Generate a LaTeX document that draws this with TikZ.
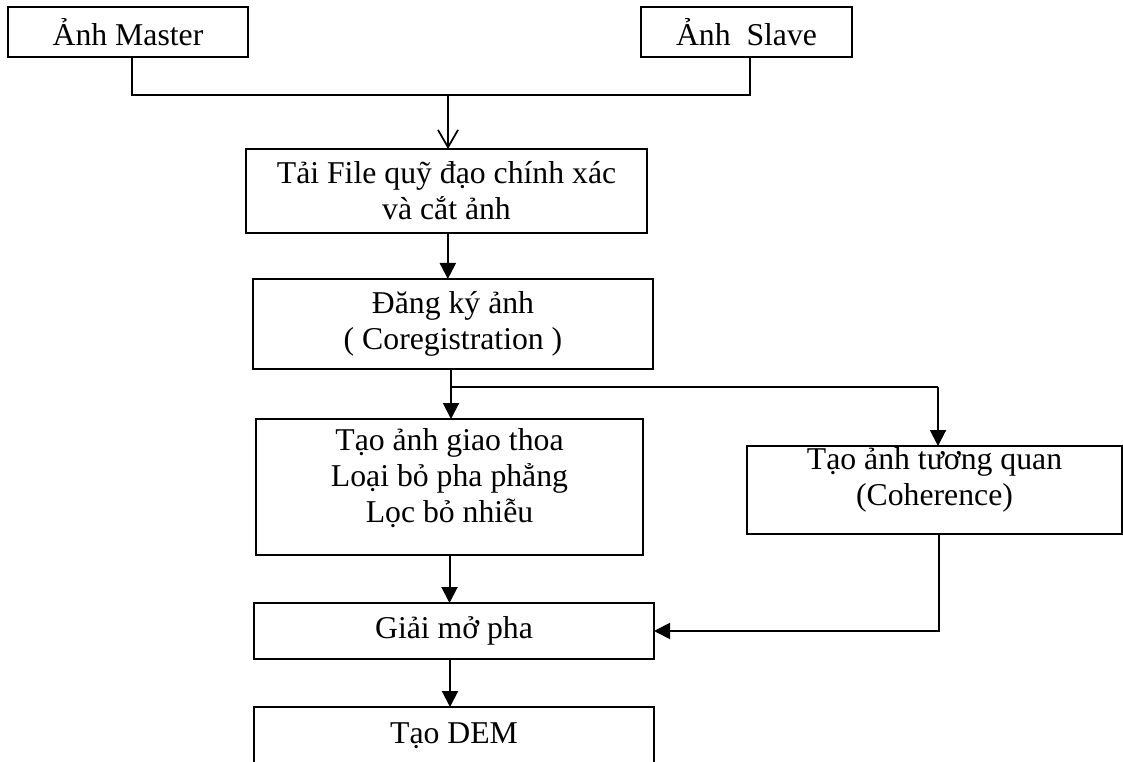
\documentclass[tikz,border=0pt]{standalone}
\usepackage{fontspec}
\setmainfont{Liberation Serif}
\usetikzlibrary{arrows.meta}
\begin{document}
\begin{tikzpicture}[x=0.75pt,y=-0.75pt,
  box/.style={draw=black,line width=1.1pt,rectangle,inner sep=0pt,outer sep=0pt,align=center,
    font=\fontsize{23.8pt}{27pt}\selectfont},
  conn/.style={draw=black,line width=1.5pt},
  arr/.style={conn,-{Triangle[length=12pt,width=12pt]}},
  openarr/.style={conn,-{Straight Barb[length=13pt,width=15pt,line width=1.3pt]}}
]
\useasboundingbox (0,0) rectangle (1123,762);
\clip (0,0) rectangle (1123,762);
\fill[white] (0,0) rectangle (1123,762);

\node[box,minimum width=180pt,minimum height=37.5pt] (master) at (128,32) {Ảnh Master};
\node[box,minimum width=158.25pt,minimum height=37.5pt] (slave) at (746.5,32) {Ảnh\ \ Slave};
\node[box,minimum width=300.75pt,minimum height=63pt] (load) at (446.5,191) {Tải File quỹ đạo chính xác\\và cắt ảnh};
\node[box,minimum width=300pt,minimum height=67.5pt] (coreg) at (453,324) {Đăng ký ảnh\\( Coregistration )};
\node[box,minimum width=290.25pt,minimum height=102pt,text depth=18pt] (interf) at (449.5,487) {Tạo ảnh giao thoa\\Loại bỏ pha phẳng\\Lọc bỏ nhiễu};
\node[box,minimum width=281.25pt,minimum height=66pt,text depth=20pt] (coher) at (934.5,490) {Tạo ảnh tương quan\\(Coherence)};
\node[box,minimum width=300pt,minimum height=42pt] (unwrap) at (454,631) {Giải mở pha};
\node[box,minimum width=300pt,minimum height=43.5pt] (dem) at (454,736) {Tạo DEM};

\coordinate (busR) at (750,95);
\coordinate (busM) at (448,95);
\coordinate (br) at (451,387);
\coordinate (brR) at (938,387);

\draw[conn] ([xshift=3pt]master.south) |- (busR) -- (busR |- slave.south);
\draw[openarr] (busM) -- (busM |- load.north);
\draw[arr] ([xshift=1pt]load.south) -- ([xshift=1pt]load.south |- coreg.north);
\draw[arr] (br |- coreg.south) -- (br |- interf.north);
\draw[conn] (br) -- (brR);
\draw[arr] (brR) -- (brR |- coher.north);
\draw[arr] (interf.south) -- (interf.south |- unwrap.north);
\draw[arr] ([xshift=3pt]coher.south) |- (unwrap.east);
\draw[arr] ([xshift=-3pt]unwrap.south) -- ([xshift=-3pt]unwrap.south |- dem.north);
\end{tikzpicture}
\end{document}
